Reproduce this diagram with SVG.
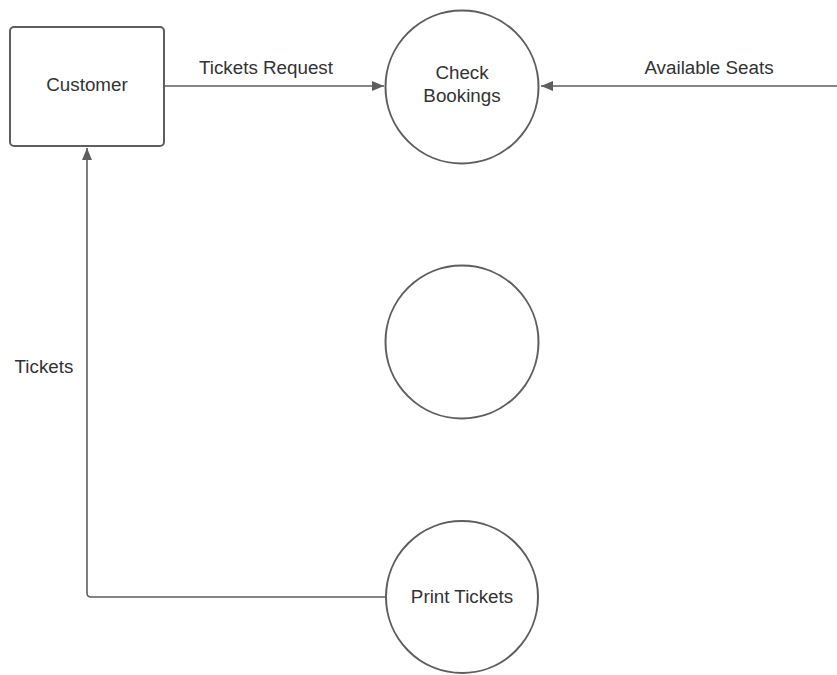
<svg xmlns="http://www.w3.org/2000/svg" width="837" height="675" viewBox="0 0 837 675">
<defs>
<style>
.shape{fill:#fff;stroke:#5e5e5e;stroke-width:2}
.conn{fill:none;stroke:#5e5e5e;stroke-width:1.6}
text{font-family:"Liberation Sans",Arial,sans-serif;font-size:18.8px;fill:#333;text-anchor:middle}
</style>
<marker id="arr" viewBox="0 0 12 10" refX="12" refY="5" markerWidth="12" markerHeight="10" markerUnits="userSpaceOnUse" orient="auto">
<path d="M0,0 L12,5 L0,10 Z" fill="#5e5e5e"/>
</marker>
</defs>
<rect width="837" height="675" fill="#fff"/>
<g id="connectors">
<path class="conn" d="M164,86 H384" marker-end="url(#arr)"/>
<path class="conn" d="M837,86 H541" marker-end="url(#arr)"/>
<path class="conn" d="M385,597 H91 Q87,597 87,593 V148" marker-end="url(#arr)"/>
<text x="266" y="74">Tickets Request</text>
<text x="709" y="74">Available Seats</text>
<text x="44" y="373">Tickets</text>
</g>
<g id="customer">
<rect class="shape" x="10" y="27" width="154" height="119" rx="4"/>
<text x="87" y="90.5">Customer</text>
</g>
<g id="check-bookings">
<circle class="shape" cx="462" cy="87" r="76.5"/>
<text x="462" y="79">Check</text>
<text x="462" y="101.5">Bookings</text>
</g>
<g id="process-empty">
<circle class="shape" cx="462" cy="342" r="76.5"/>
</g>
<g id="print-tickets">
<circle class="shape" cx="462" cy="597" r="76"/>
<text x="462" y="602.5">Print Tickets</text>
</g>
</svg>
